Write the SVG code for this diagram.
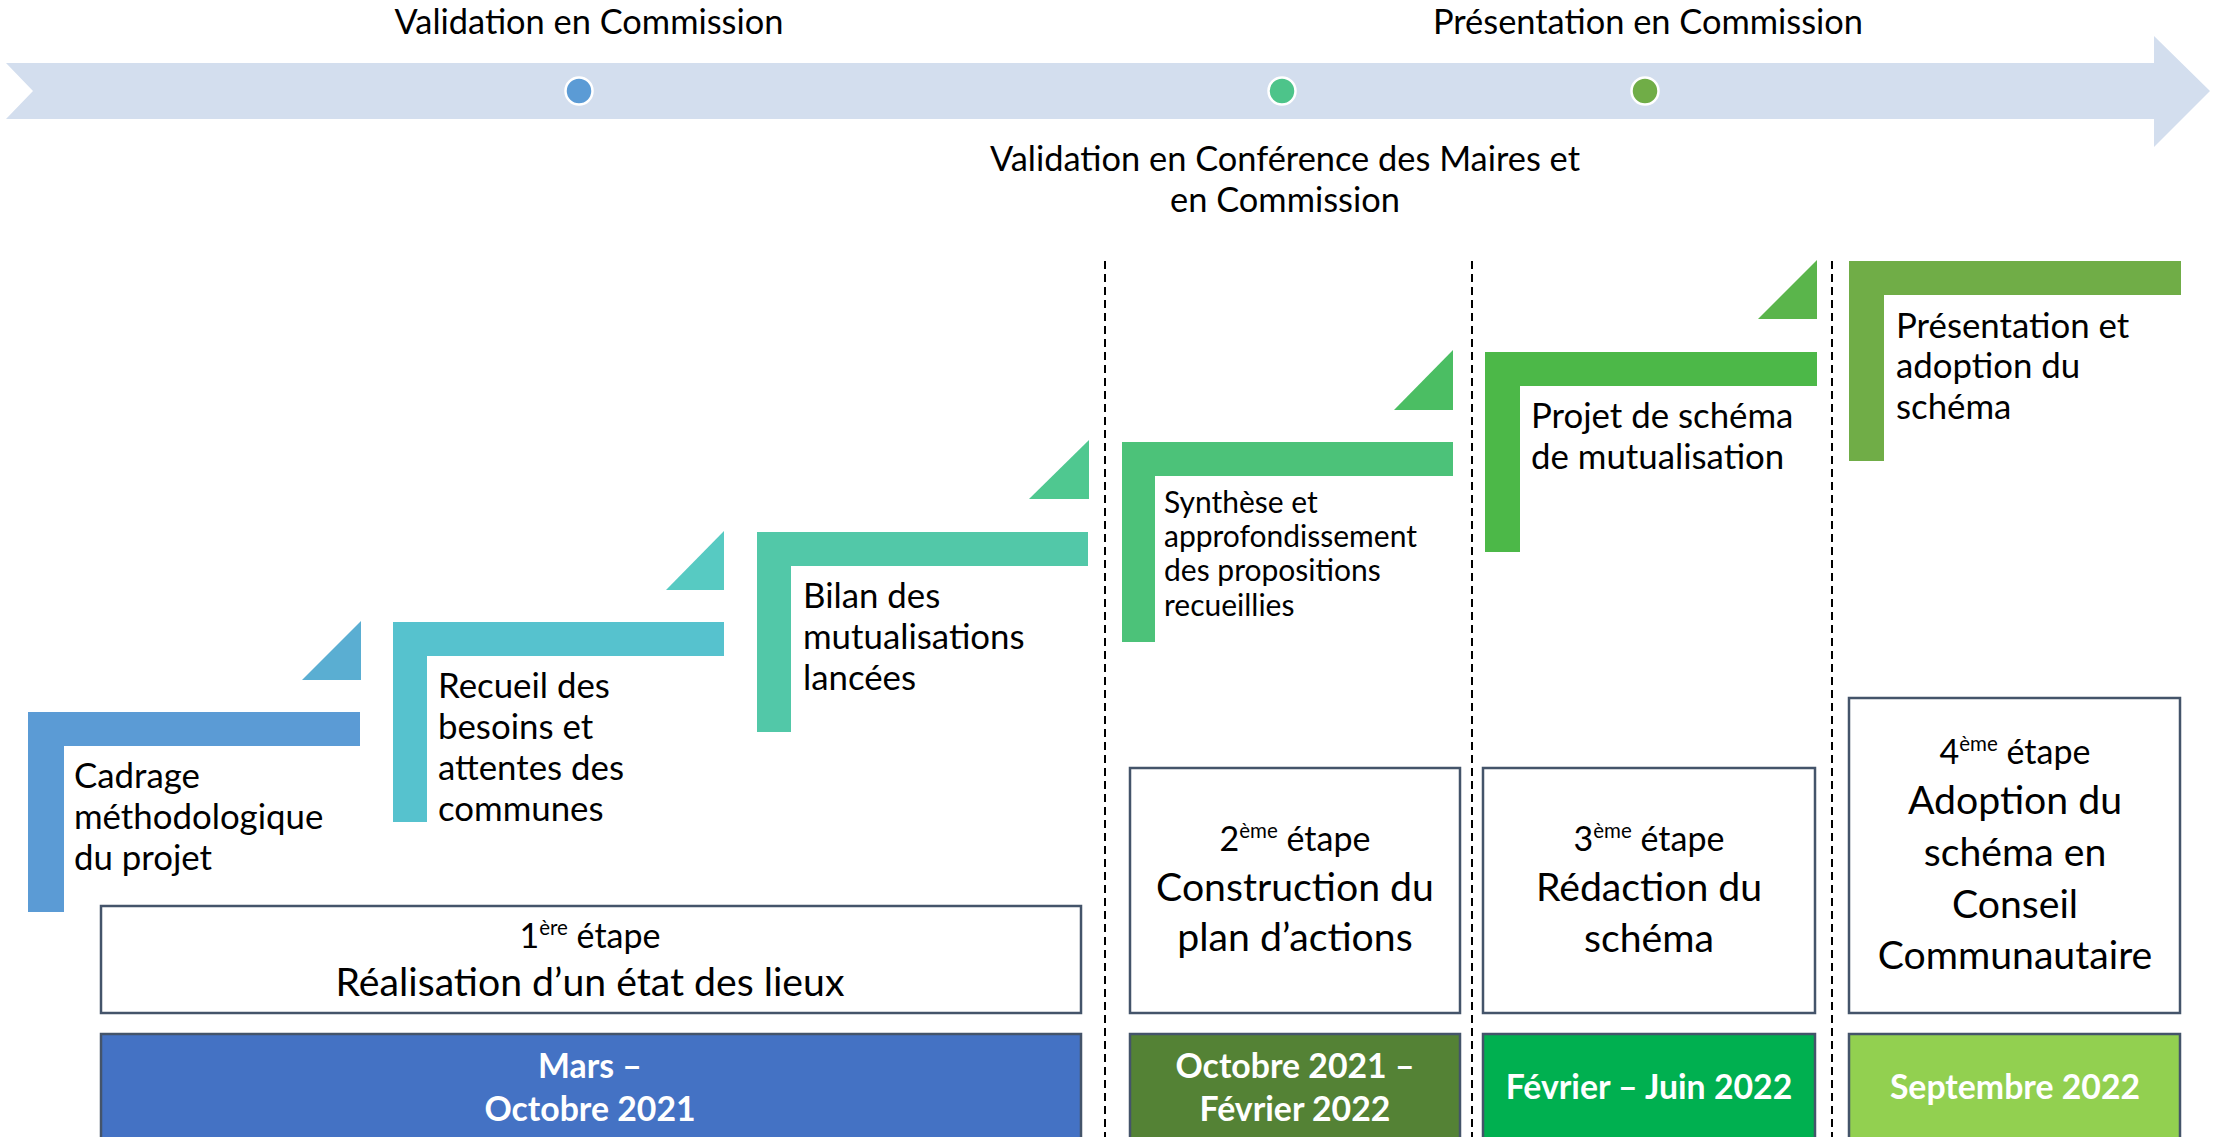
<svg xmlns="http://www.w3.org/2000/svg" width="2216" height="1137" viewBox="0 0 2216 1137">
  <style>
    text { font-family: Lato, "Open Sans", "Liberation Sans", sans-serif; fill: #000; }
    .lbl { font-size: 34.4px; }
    .step { font-size: 34.8px; }
    .step-sm { font-size: 30px; }
    .big { font-size: 39.2px; text-anchor: middle; }
    .etp { font-size: 34px; text-anchor: middle; }
    .sup { font-size: 20.5px; }
    .date { font-size: 33.8px; font-weight: 700; fill: #fff; text-anchor: middle; }
    .box { fill: #fff; stroke: #44546A; stroke-width: 2.5; }
    .dbox { stroke: #44546A; stroke-width: 2.5; }
    .sep { stroke: #000; stroke-width: 2; stroke-dasharray: 8 5; fill: none; }
    .dot { stroke: #fff; stroke-width: 2.5; }
  </style>

  <!-- timeline band -->
  <g id="timeline">
    <path d="M6,63 L2154,63 L2154,36 L2210,91 L2154,147 L2154,119 L6,119 L33,91 Z" fill="#D3DEEE"/>
    <circle class="dot" cx="579" cy="91" r="13.5" fill="#5B9BD5"/>
    <circle class="dot" cx="1282" cy="91" r="13.5" fill="#4DC48A"/>
    <circle class="dot" cx="1645" cy="91" r="13.5" fill="#70AD47"/>
    <text class="lbl" x="589" y="34" text-anchor="middle">Validation en Commission</text>
    <text class="lbl" x="1648" y="34" text-anchor="middle">Présentation en Commission</text>
    <text class="lbl" x="1285" y="171" text-anchor="middle">Validation en Conférence des Maires et</text>
    <text class="lbl" x="1285" y="212" text-anchor="middle">en Commission</text>
  </g>

  <!-- phase separators -->
  <g id="connectors">
    <line class="sep" x1="1105" y1="261" x2="1105" y2="1137"/>
    <line class="sep" x1="1472" y1="261" x2="1472" y2="1137"/>
    <line class="sep" x1="1832" y1="261" x2="1832" y2="1137"/>
  </g>

  <!-- staircase steps -->
  <g id="step1">
    <path d="M28,712 H360 V746 H64 V912 H28 Z" fill="#5B9BD5"/>
    <path d="M361,621 V680 H302 Z" fill="#5AAED2"/>
    <text class="step" x="74" y="788">Cadrage</text>
    <text class="step" x="74" y="829">méthodologique</text>
    <text class="step" x="74" y="870">du projet</text>
  </g>
  <g id="step2">
    <path d="M393,622 H724 V656 H427 V822 H393 Z" fill="#56C2CE"/>
    <path d="M724,531 V590 H666 Z" fill="#57CAC2"/>
    <text class="step" x="438" y="698">Recueil des</text>
    <text class="step" x="438" y="739">besoins et</text>
    <text class="step" x="438" y="780">attentes des</text>
    <text class="step" x="438" y="821">communes</text>
  </g>
  <g id="step3">
    <path d="M757,532 H1088 V566 H791 V732 H757 Z" fill="#52C8A8"/>
    <path d="M1089,440 V499 H1029 Z" fill="#4FC890"/>
    <text class="step" x="803" y="608">Bilan des</text>
    <text class="step" x="803" y="649">mutualisations</text>
    <text class="step" x="803" y="690">lancées</text>
  </g>
  <g id="step4">
    <path d="M1122,442 H1453 V476 H1155 V642 H1122 Z" fill="#4CC279"/>
    <path d="M1453,350 V410 H1394 Z" fill="#4BBE63"/>
    <text class="step-sm" x="1164" y="513">Synthèse et</text>
    <text class="step-sm" x="1164" y="547">approfondissement</text>
    <text class="step-sm" x="1164" y="581">des propositions</text>
    <text class="step-sm" x="1164" y="616">recueillies</text>
  </g>
  <g id="step5">
    <path d="M1485,352 H1817 V386 H1520 V552 H1485 Z" fill="#4CB848"/>
    <path d="M1817,260 V319 H1758 Z" fill="#5AB54B"/>
    <text class="step" x="1531" y="428">Projet de schéma</text>
    <text class="step" x="1531" y="469">de mutualisation</text>
  </g>
  <g id="step6">
    <path d="M1849,261 H2181 V295 H1884 V461 H1849 Z" fill="#70AD47"/>
    <text class="step" x="1896" y="338">Présentation et</text>
    <text class="step" x="1896" y="378">adoption du</text>
    <text class="step" x="1896" y="419">schéma</text>
  </g>

  <!-- phase boxes -->
  <g id="phase1">
    <rect class="box" x="101" y="906" width="980" height="107"/>
    <text class="etp" x="590" y="948">1<tspan class="sup" dy="-13">ère</tspan><tspan dy="13"> étape</tspan></text>
    <text class="big" x="590" y="996">Réalisation d’un état des lieux</text>
  </g>
  <g id="phase2">
    <rect class="box" x="1130" y="768" width="330" height="245"/>
    <text class="etp" x="1295" y="851">2<tspan class="sup" dy="-13">ème</tspan><tspan dy="13"> étape</tspan></text>
    <text class="big" x="1295" y="901">Construction du</text>
    <text class="big" x="1295" y="951">plan d’actions</text>
  </g>
  <g id="phase3">
    <rect class="box" x="1483" y="768" width="332" height="245"/>
    <text class="etp" x="1649" y="851">3<tspan class="sup" dy="-13">ème</tspan><tspan dy="13"> étape</tspan></text>
    <text class="big" x="1649" y="901">Rédaction du</text>
    <text class="big" x="1649" y="952">schéma</text>
  </g>
  <g id="phase4">
    <rect class="box" x="1849" y="698" width="331" height="315"/>
    <text class="etp" x="2015" y="764">4<tspan class="sup" dy="-13">ème</tspan><tspan dy="13"> étape</tspan></text>
    <text class="big" x="2015" y="814">Adoption du</text>
    <text class="big" x="2015" y="866">schéma en</text>
    <text class="big" x="2015" y="918">Conseil</text>
    <text class="big" x="2015" y="969">Communautaire</text>
  </g>

  <!-- period boxes -->
  <g id="period1">
    <rect class="dbox" x="101" y="1034" width="980" height="120" fill="#4472C4"/>
    <text class="date" x="590" y="1078">Mars –</text>
    <text class="date" x="590" y="1121">Octobre 2021</text>
  </g>
  <g id="period2">
    <rect class="dbox" x="1130" y="1034" width="330" height="120" fill="#548235"/>
    <text class="date" x="1295" y="1078">Octobre 2021 –</text>
    <text class="date" x="1295" y="1121">Février 2022</text>
  </g>
  <g id="period3">
    <rect class="dbox" x="1483" y="1034" width="332" height="120" fill="#00B050"/>
    <text class="date" x="1649" y="1099">Février – Juin 2022</text>
  </g>
  <g id="period4">
    <rect class="dbox" x="1849" y="1034" width="331" height="120" fill="#92D050"/>
    <text class="date" x="2015" y="1099">Septembre 2022</text>
  </g>
</svg>
